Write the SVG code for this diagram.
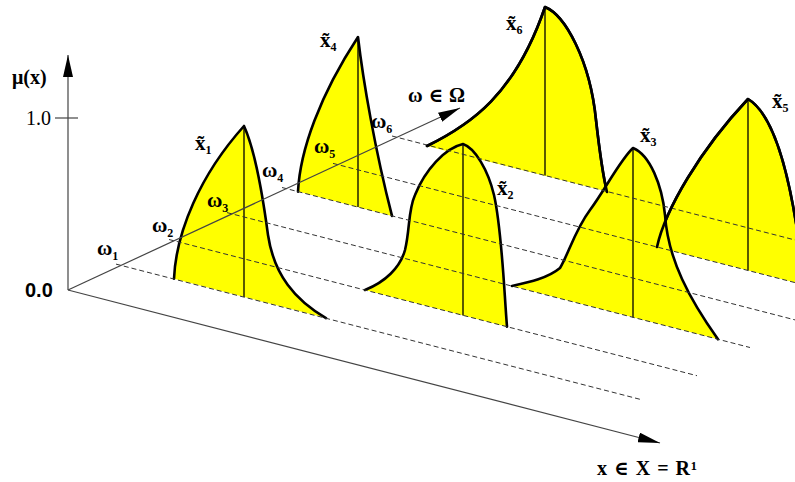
<svg xmlns="http://www.w3.org/2000/svg" width="795" height="482" viewBox="0 0 795 482">
<style>
.fill{fill:#ffff00;stroke:none}
.curve{fill:none;stroke:#000;stroke-width:2.6;stroke-linejoin:round;stroke-linecap:round}
.mid{stroke:#000;stroke-width:1.3}
.dash{stroke:#333;stroke-width:1;stroke-dasharray:5 3;fill:none}
.axis{stroke:#444;stroke-width:1.2;fill:none}
.lbl{font-family:"Liberation Serif","DejaVu Serif",serif;fill:#000;font-size:20px}
.xl{font-size:21px;font-weight:bold}
.w{font-size:21px;font-weight:bold}
.sub{font-size:12px;font-weight:bold}
</style>
<defs>
<marker id="ah" markerUnits="userSpaceOnUse" viewBox="0 0 22 10" refX="22" refY="5" markerWidth="22" markerHeight="10" orient="auto"><path d="M0,0 L22,5 L0,10 Z" fill="#000"/></marker>
<path id="c5" d="M657,247 C665,210 700,150 748,99 C770,112 788,160 800,250"/>
<path id="c6" d="M427,146 C470,125 515,95 545,7 C565,15 590,60 596,120 C600,155 604,180 607,192"/>
</defs>
<rect width="795" height="482" fill="#fff"/>

<g id="x6">
<path class="fill" d="M427,146 C470,125 515,95 545,7 C565,15 590,60 596,120 C600,155 604,180 607,191.5 Z"/>
<line class="mid" x1="545" y1="7" x2="545" y2="175.5"/>
<use href="#c6" class="curve"/>
<text class="lbl xl" x="506" y="30">x&#x303;<tspan class="sub" dy="4">6</tspan></text>
</g>

<g id="x5">
<path class="fill" d="M657,247 C665,210 700,150 748,99 C770,112 788,160 800,250 L800,283.9 Z"/>
<line class="mid" x1="748" y1="99" x2="748" y2="270.5"/>
<use href="#c5" class="curve"/>
<text class="lbl xl" x="772" y="108">x&#x303;<tspan class="sub" dy="4">5</tspan></text>
</g>

<g id="x4">
<path class="fill" d="M298,191.6 C300,150 320,95 358,37 C363,80 375,150 392,215.9 Z"/>
<line class="mid" x1="358" y1="37" x2="358" y2="207.1"/>
<path class="curve" d="M298,191.6 C300,150 320,95 358,37 C363,80 375,150 392,215.9"/>
<text class="lbl xl" x="320" y="47">x&#x303;<tspan class="sub" dy="4">4</tspan></text>
</g>

<g id="x3">
<path class="fill" d="M512,286 C530,282 548,278 560,268 C568,255 575,230 590,210 C605,190 620,160 633,148 C650,155 662,185 665,215 C668,260 690,300 718,339.3 Z"/>
<line class="mid" x1="633" y1="148" x2="633" y2="317.4"/>
<path class="curve" d="M512,286 C530,282 548,278 560,268 C568,255 575,230 590,210 C605,190 620,160 633,148 C650,155 662,185 665,215 C668,260 690,300 718,339.3"/>
<text class="lbl xl" x="640" y="142">x&#x303;<tspan class="sub" dy="4">3</tspan></text>
</g>

<g id="x2">
<path class="fill" d="M365,290 C385,282 400,268 405,250 C410,230 408,210 415,195 C425,170 445,148 463,144 C475,148 488,170 494,195 C502,230 504,290 507,326.7 Z"/>
<line class="mid" x1="463" y1="144" x2="463" y2="315.4"/>
<path class="curve" d="M365,290 C385,282 400,268 405,250 C410,230 408,210 415,195 C425,170 445,148 463,144 C475,148 488,170 494,195 C502,230 504,290 507,326.7"/>
<text class="lbl xl" x="497" y="195">x&#x303;<tspan class="sub" dy="4">2</tspan></text>
</g>

<g id="x1">
<path class="fill" d="M174,278.8 C176,232 200,175 244,126 C255,150 262,190 268,235 C274,275 295,300 326,318.1 Z"/>
<line class="mid" x1="244" y1="126" x2="244" y2="296.9"/>
<path class="curve" d="M174,278.8 C176,232 200,175 244,126 C255,150 262,190 268,235 C274,275 295,300 326,318.1"/>
<text class="lbl xl" x="195" y="150">x&#x303;<tspan class="sub" dy="4">1</tspan></text>
</g>

<g id="connectors">
<line class="dash" x1="116" y1="264.1" x2="640" y2="399.3"/>
<line class="dash" x1="169" y1="239.5" x2="697" y2="375.7"/>
<line class="dash" x1="227" y1="212.6" x2="750" y2="347.5"/>
<line class="dash" x1="282" y1="187.5" x2="795" y2="319.9"/>
<line class="dash" x1="333" y1="163.4" x2="795" y2="282.6"/>
<line class="dash" x1="392" y1="136" x2="795" y2="240"/>
<line class="axis" x1="68" y1="290" x2="68" y2="55" marker-end="url(#ah)" stroke="#666"/>
<line class="axis" x1="55" y1="118" x2="78" y2="118" stroke="#000"/>
<line class="axis" x1="68" y1="290" x2="460" y2="108" marker-end="url(#ah)" stroke-width="1"/>
<line class="axis" x1="68" y1="290" x2="660" y2="443" marker-end="url(#ah)"/>
</g>

<g id="overlaps">
<use href="#c6" class="curve"/>
<use href="#c5" class="curve"/>
</g>

<g id="labels">
<text class="lbl" x="12" y="84" font-weight="bold" font-size="21">μ(x)</text>
<text class="lbl" x="51" y="125" text-anchor="end" font-size="21">1.0</text>
<text x="25" y="297" font-family="Liberation Sans, Arial, sans-serif" font-weight="bold" font-size="20">0.0</text>
<text class="lbl" x="408" y="102" font-size="18" font-weight="bold" textLength="57" lengthAdjust="spacing">ω ∈ Ω</text>
<text class="lbl" x="597" y="475" font-size="18" font-weight="bold" textLength="100" lengthAdjust="spacing">x ∈ X = R¹</text>
<text class="lbl w" x="97" y="255">ω<tspan class="sub" dy="5">1</tspan></text>
<text class="lbl w" x="152" y="232">ω<tspan class="sub" dy="5">2</tspan></text>
<text class="lbl w" x="207" y="207">ω<tspan class="sub" dy="5">3</tspan></text>
<text class="lbl w" x="262" y="177">ω<tspan class="sub" dy="5">4</tspan></text>
<text class="lbl w" x="314" y="153">ω<tspan class="sub" dy="5">5</tspan></text>
<text class="lbl w" x="371" y="128">ω<tspan class="sub" dy="5">6</tspan></text>
</g>
</svg>
